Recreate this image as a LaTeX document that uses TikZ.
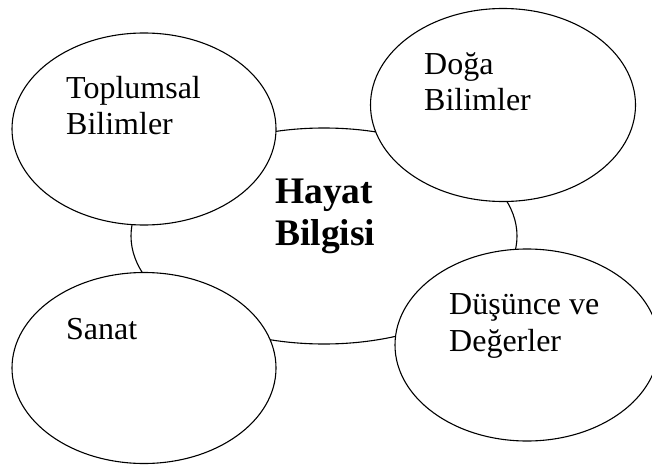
\documentclass[tikz,border=0pt]{standalone}
\usepackage{fontspec}
\setmainfont{Liberation Serif}
\usetikzlibrary{shapes.geometric}
\tikzset{
  bubble/.style={ellipse, draw, line width=1.1pt, fill=white, inner sep=0pt},
  small/.style={font=\fontsize{32}{36}\selectfont, inner sep=0pt, anchor=base west},
  big/.style={font=\bfseries\fontsize{37.5}{42}\selectfont, inner sep=0pt, anchor=base west}
}
\begin{document}
\begin{tikzpicture}[x=1pt,y=-1pt]
\useasboundingbox (0,0) rectangle (652,465);
\node[bubble, minimum width=386pt, minimum height=216pt] (center) at (324,236) {};
\node[bubble, minimum width=264pt, minimum height=192pt] (tl) at (144,129) {};
\node[bubble, minimum width=265pt, minimum height=193pt] (tr) at (503,105) {};
\node[bubble, minimum width=264pt, minimum height=191pt] (bl) at (144,368) {};
\node[bubble, minimum width=264pt, minimum height=192pt] (br) at (527,345) {};
\node[big] (h1) at (275,203) {Hayat};
\node[big] (h2) at (275,245) {Bilgisi};
\node[small] (t1) at (66,99) {Toplumsal};
\node[small] (t2) at (66,135) {Bilimler};
\node[small] (d1) at (424,75) {Doğa};
\node[small] (d2) at (424,111) {Bilimler};
\node[small] (s1) at (66,339) {Sanat};
\node[small] (g1) at (449,314) {Düşünce ve};
\node[small] (g2) at (449,351) {Değerler};
\end{tikzpicture}
\end{document}
